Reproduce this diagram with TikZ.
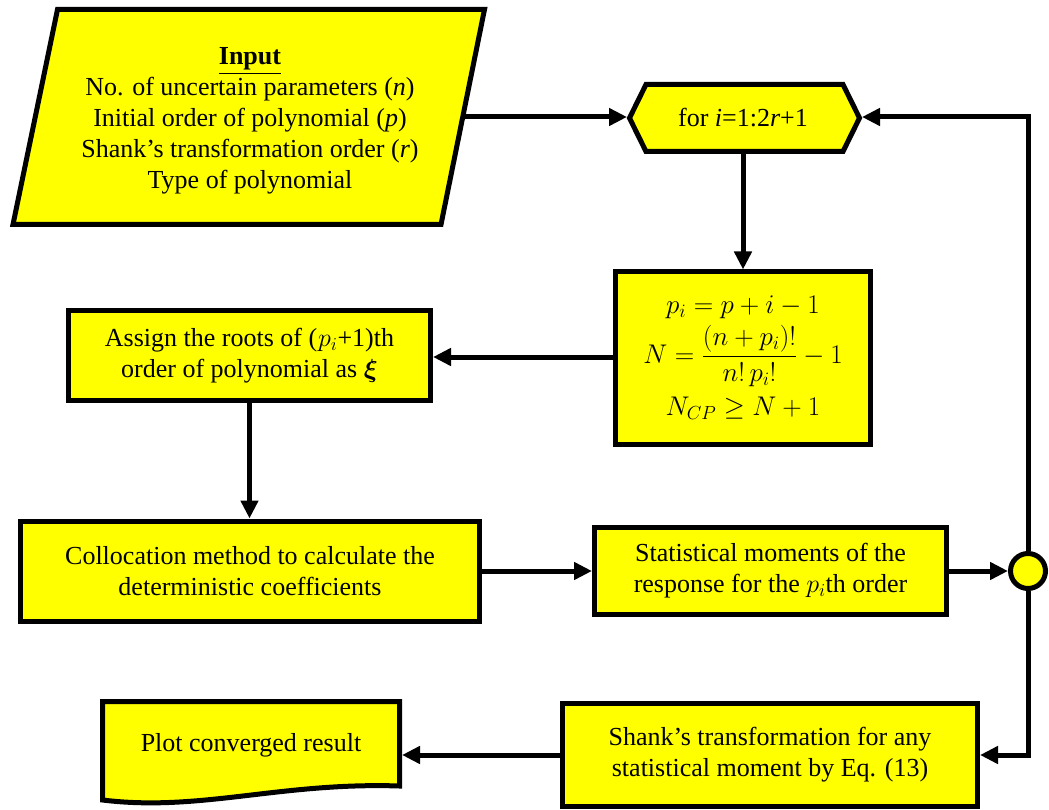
\RequirePackage{fix-cm}
\documentclass[tikz,border=0pt]{standalone}
\usepackage{amsmath,bm}
\usepackage{fontspec}
\setmainfont{Liberation Serif}
\usetikzlibrary{arrows.meta}
\definecolor{fy}{RGB}{255,255,0}
\begin{document}
\begin{tikzpicture}[x=1pt,y=-1pt,
  every node/.style={font=\fontsize{26}{31}\selectfont},
  shp/.style={draw=black,fill=fy,line width=5pt,line join=miter},
  bx/.style={shp,rectangle,inner sep=0pt,align=center},
  txt/.style={align=center,inner sep=0pt},
  conn/.style={line width=5pt,-{Triangle[length=18pt,width=17pt]}}]
\useasboundingbox (0,0) rectangle (1049,810);

% input parallelogram
\draw[shp] (57.5,9.5) -- (484.5,9.5) -- (441,224.5) -- (13,224.5) -- cycle;
\node[txt] (inp) at (250,121) {\underline{\textbf{Input}}\\
  No. of uncertain parameters (\textit{n})\\
  Initial order of polynomial (\textit{p})\\
  Shank’s transformation order (\textit{r})\\
  Type of polynomial};
\coordinate (inR) at (465,117);

% loop hexagon
\draw[shp] (629.5,118) -- (646,84.5) -- (843,84.5) -- (859.5,118) -- (843,151.5) -- (646,151.5) -- cycle;
\node[txt] (loop) at (743,118) {for \textit{i}=1:2\textit{r}+1};
\coordinate (hexL) at (627,117);
\coordinate (hexR) at (862,117);
\coordinate (hexB) at (743,152);

% calculation box
\node[bx,minimum width=255pt,minimum height=172pt] (calc) at (743,358)
  {\fontsize{27}{32}\selectfont$\displaystyle\begin{gathered}
   p_i = p+i-1\\[-2pt]
   N=\frac{(n+p_i)!}{n!\,p_i!}-1\\[2pt]
   N_{CP}\ge N+1
   \end{gathered}$};

% assign box
\node[bx,minimum width=362pt,minimum height=90pt] (assign) at (249.5,355.5)
  {Assign the roots of (\kern1pt$p_i$+1)th\\ order of polynomial as $\bm{\xi}$};

% collocation
\node[bx,minimum width=459pt,minimum height=100pt] (colloc) at (250,571)
  {Collocation method to calculate the\\ deterministic coefficients};

% statistical
\node[bx,minimum width=352pt,minimum height=87pt] (stat) at (770.5,571)
  {Statistical moments of the\\ response for the $p_i$th order};

% junction
\node[shp,circle,minimum size=35pt,inner sep=0pt] (jn) at (1028,571) {};

% shank box
\node[bx,minimum width=415pt,minimum height=103pt] (shank) at (770,755)
  {Shank’s transformation for any\\ statistical moment by Eq. (13)};

% plot document shape
\draw[shp] (102.5,701.5) -- (399.5,701.5) -- (399.5,786)
  .. controls (280,782) and (200,812) .. (102.5,800) -- cycle;
\node[txt] (plot) at (251,745) {Plot converged result};
\coordinate (plotR) at (402,755);

% connectors
\draw[conn] (inR) -- (hexL);
\draw[conn] (hexB) -- (calc.north);
\draw[conn] (calc.west |- 0,357) -- (assign.east |- 0,357);
\draw[conn] (assign.south) -- (assign.south |- colloc.north);
\draw[conn] (colloc.east) -- (colloc.east -| stat.west);
\draw[conn] (stat.east) -- (jn.west);
\draw[conn] (jn.north) |- (hexR);
\draw[conn] (jn.south) |- (shank.east);
\draw[conn] (shank.west) -- (shank.west -| plotR);
\end{tikzpicture}
\end{document}
